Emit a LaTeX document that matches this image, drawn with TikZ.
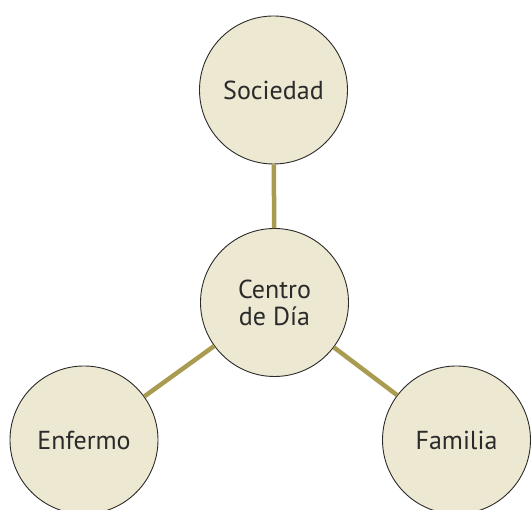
\documentclass[tikz,border=0pt]{standalone}
\usepackage{fontspec}
\setmainfont{PT Sans}
\definecolor{bubblefill}{HTML}{EDE8D2}
\definecolor{linkolive}{HTML}{A99C50}
\definecolor{inkdark}{HTML}{2A2A2A}
\begin{document}
\begin{tikzpicture}[x=1pt,y=1pt,
  bubble/.style={circle, draw=inkdark, line width=0.9pt, fill=bubblefill, minimum size=148pt, inner sep=0pt, align=center, font=\fontsize{26}{27}\selectfont, text=inkdark},
  link/.style={draw=linkolive, line width=4.5pt}]
\useasboundingbox (0,0) rectangle (531,510);
\node[bubble] (soc) at (273.5,420){Sociedad};
\node[bubble] (cen) at (274.5,207.5){Centro\\de Día};
\node[bubble] (enf) at (84,70){Enfermo};
\node[bubble] (fam) at (456.5,70){Familia};
\draw[link](cen) -- (soc);
\draw[link](cen) -- (enf);
\draw[link](cen) -- (fam);
\end{tikzpicture}
\end{document}
